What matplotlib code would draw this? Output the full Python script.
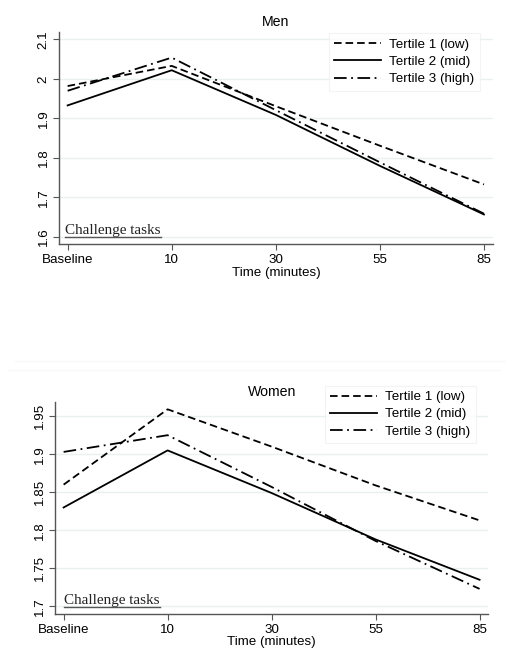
import matplotlib
matplotlib.use("Agg")
import matplotlib.pyplot as plt
from matplotlib.lines import Line2D

categories = ["Baseline", "10", "30", "55", "85"]
series_names = ["Tertile 1 (low)", "Tertile 2 (mid)", "Tertile 3 (high)"]

men_t1 = [1.982, 2.033, 1.931, 1.831, 1.733]
men_t2 = [1.933, 2.022, 1.909, 1.780, 1.657]
men_t3 = [1.970, 2.054, 1.921, 1.789, 1.659]

women_t1 = [1.860, 1.959, 1.910, 1.859, 1.813]
women_t2 = [1.830, 1.905, 1.849, 1.788, 1.735]
women_t3 = [1.903, 1.925, 1.857, 1.786, 1.723]

men_yticks = [1.6, 1.7, 1.8, 1.9, 2.0, 2.1]
men_yticklabels = ["1.6", "1.7", "1.8", "1.9", "2", "2.1"]
women_yticks = [1.7, 1.75, 1.8, 1.85, 1.9, 1.95]
women_yticklabels = ["1.7", "1.75", "1.8", "1.85", "1.9", "1.95"]

plt.rcParams['font.family'] = ['Liberation Sans', 'DejaVu Sans']

W, H = 512, 668
fig = plt.figure(figsize=(W / 100, H / 100), dpi=100)

styles = [dict(ls=(0, (4.2, 2.2))), dict(ls="-"), dict(ls=(0, (7, 2.5, 1, 2.5)))]
FS = 9.6


def px(x0, y0, x1, y1):
    return [x0 / W, 1 - y1 / H, (x1 - x0) / W, (y1 - y0) / H]


def panel(rect, data, yticks, ylabels, ylim, title, title_xy, leg_xy, ct_xy):
    ax = fig.add_axes(rect)
    x = list(range(len(categories)))
    handles = []
    for vals, st, name in zip(data, styles, series_names):
        h, = ax.plot(x, vals, color="black", lw=1.3, label=name, **st)
        handles.append(h)
    ax.set_xlim(-0.08, 4.084)
    ax.set_ylim(*ylim)
    ax.set_xticks(x)
    ax.set_xticklabels(categories, fontsize=FS)
    ax.set_yticks(yticks)
    ax.set_yticklabels(ylabels, fontsize=FS, rotation=90, va="center")
    ax.grid(axis="y", color="#e8f0f0", lw=1.0)
    ax.set_axisbelow(True)
    for s in ["top", "right"]:
        ax.spines[s].set_visible(False)
    for s in ["left", "bottom"]:
        ax.spines[s].set_color("#555555")
        ax.spines[s].set_linewidth(1.0)
    ax.tick_params(axis="both", colors="#555555", labelcolor="black", length=4, width=0.8, pad=3)
    ax.set_xlabel("Time (minutes)", fontsize=FS, labelpad=0.5)
    fig.text(title_xy[0] / W, 1 - title_xy[1] / H, title, ha="center", va="center", fontsize=10.2)
    leg = ax.legend(handles=handles, loc="upper left",
                    bbox_to_anchor=(leg_xy[0] / W, 1 - leg_xy[1] / H),
                    bbox_transform=fig.transFigure, fontsize=FS, frameon=True,
                    fancybox=False, handlelength=3.5, handletextpad=0.6,
                    borderpad=0.4, labelspacing=0.36, borderaxespad=0)
    leg.get_frame().set_edgecolor("#f0f0f0")
    leg.get_frame().set_linewidth(0.8)
    t = fig.text(ct_xy[0] / W, 1 - ct_xy[1] / H, "Challenge tasks",
                 family=["Liberation Serif", "DejaVu Serif"], fontsize=10.9,
                 ha="left", va="baseline", color="#222222")
    return ax, t


ax1, t1 = panel(px(59.3, 32.3, 492.7, 244.3), [men_t1, men_t2, men_t3],
                men_yticks, men_yticklabels, (1.5815, 2.118), "Men",
                (276, 22), (329, 33.3), (65, 233.5))
ax2, t2 = panel(px(55.3, 401.7, 488.3, 614), [women_t1, women_t2, women_t3],
                women_yticks, women_yticklabels, (1.690, 1.969), "Women",
                (271.8, 391.7), (325, 385.7), (64, 604))

# faint frame lines of combined graph
fig.add_artist(Line2D([15 / W, 505 / W], [1 - 360.7 / H] * 2, color="#f8f8f8", lw=0.8))
fig.add_artist(Line2D([8 / W, 500 / W], [1 - 370 / H] * 2, color="#f8f8f8", lw=0.8))

fig.canvas.draw()
r = fig.canvas.get_renderer()
for t, uy in [(t1, 236.5), (t2, 607)]:
    bb = t.get_window_extent(r)
    fig.add_artist(Line2D([bb.x0 / W, bb.x1 / W], [1 - uy / H] * 2, color="#555555", lw=1.0))

fig.savefig("out.png", dpi=100, facecolor="white")
